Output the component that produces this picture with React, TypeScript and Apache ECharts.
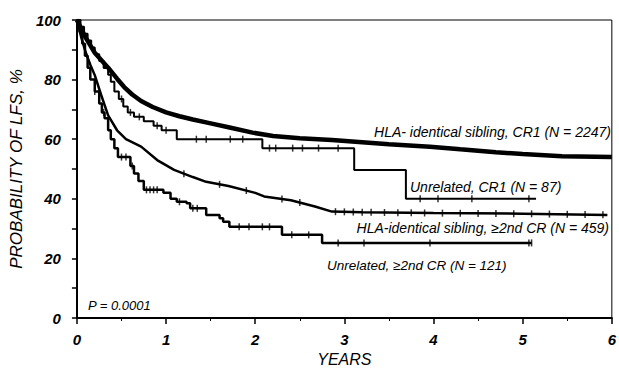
import React, { useEffect, useRef } from "react";
import * as echarts from "echarts";

// ---- Data (years, % leukemia-free survival) ----
const sibCR1: [number, number][] = [
  [0, 100], [0.05, 97], [0.1, 94], [0.15, 91.5], [0.2, 89], [0.25, 87.3], [0.35, 84],
  [0.45, 80.3], [0.53, 77.5], [0.62, 75], [0.72, 72.8], [0.85, 70.8], [1.0, 69],
  [1.15, 67.7], [1.3, 66.6], [1.5, 65.3], [1.7, 64], [1.97, 62.2], [2.2, 61.1], [2.5, 60.3],
  [2.86, 59.7], [3.2, 59], [3.5, 58.3], [3.96, 57.5], [4.3, 56.6], [4.7, 55.6],
  [5.0, 55], [5.44, 54.3], [6.0, 54],
];

const unrelCR1Steps: [number, number][] = [
  [0, 100], [0.04, 97.7], [0.08, 95.4], [0.12, 93.1], [0.16, 90.8], [0.2, 88.5],
  [0.25, 86.2], [0.3, 83.9], [0.35, 81.6], [0.38, 79.3], [0.42, 76], [0.47, 73.5],
  [0.52, 71], [0.57, 69], [0.64, 67.5], [0.75, 66], [0.86, 64.5], [0.95, 63],
  [1.12, 60], [2.08, 57], [3.11, 49.7], [3.69, 40], [5.15, 40],
];
const unrelCR1Censor = [0.5, 0.6, 0.7, 0.9, 1.0, 1.34, 1.45, 1.72, 1.86, 2.16, 2.23, 2.42, 2.53, 2.71, 2.93, 3.85, 4.05, 4.43, 5.07];

const sib2CR: [number, number][] = [
  [0, 100], [0.05, 94], [0.1, 89], [0.15, 85], [0.2, 81.5], [0.27, 75], [0.35, 68],
  [0.45, 63], [0.55, 60], [0.72, 57.5], [0.9, 53], [1.09, 49.7], [1.3, 47.3],
  [1.45, 45.7], [1.7, 44.3], [2.0, 42], [2.1, 40.8], [2.4, 39.5], [2.67, 37.4],
  [2.86, 35.7], [3.2, 35.5], [4.0, 35.2], [5.0, 35], [5.95, 34.6],
];
const sib2CRCensor = [1.2, 1.6, 1.9, 2.3, 2.5, 2.9, 3.0, 3.1, 3.2, 3.3, 3.45, 3.6, 3.75, 3.9, 4.1, 4.3, 4.5, 4.7, 4.9, 5.1, 5.3, 5.5, 5.7, 5.9];

const unrel2CRSteps: [number, number][] = [
  [0, 100], [0.03, 96], [0.06, 92], [0.09, 88], [0.12, 84], [0.15, 80], [0.2, 76],
  [0.25, 72], [0.28, 69], [0.31, 67], [0.35, 63], [0.38, 60], [0.42, 57], [0.46, 54],
  [0.6, 51], [0.64, 48.5], [0.69, 46], [0.75, 43], [0.97, 42], [1.05, 40], [1.12, 39],
  [1.23, 38.5], [1.27, 36.8], [1.45, 34.6], [1.6, 33.5], [1.64, 32.3], [1.71, 30.6],
  [2.3, 27.9], [2.75, 25.2], [5.1, 25.2],
];
const unrel2CRCensor = [0.2, 0.3, 0.5, 0.55, 0.62, 0.78, 0.82, 0.86, 0.9, 1.15, 1.3, 1.35, 1.82, 1.93, 2.08, 2.16, 2.41, 2.6, 2.93, 3.22, 3.96, 5.07, 5.1];

const xTicks = [0, 1, 2, 3, 4, 5, 6];

function stepAt(steps: [number, number][], t: number) {
  let v = steps[0][1];
  for (const [x, y] of steps) {
    if (x <= t) v = y;
    else break;
  }
  return v;
}
function linAt(pts: [number, number][], t: number) {
  for (let i = 1; i < pts.length; i++) {
    const [x0, y0] = pts[i - 1];
    const [x1, y1] = pts[i];
    if (t <= x1) return y0 + ((y1 - y0) * (t - x0)) / (x1 - x0);
  }
  return pts[pts.length - 1][1];
}

const FONT = "'Liberation Sans', Arial, sans-serif";

export default function App() {
  const ref = useRef<HTMLDivElement>(null);
  useEffect(() => {
    if (!ref.current) return;
    const chart = echarts.init(ref.current, undefined, { renderer: "svg" });
    const mkCensor = (pts: number[][]) => ({
      type: "scatter" as const,
      data: pts,
      symbol: "rect",
      symbolSize: [1.5, 7] as any,
      itemStyle: { color: "#000" },
      silent: true,
      z: 5,
    });
    chart.setOption({
      animation: false,
      backgroundColor: "#fff",
      grid: {
        left: 72, right: 5, top: 20, bottom: 58,
        show: true, borderColor: "#000", borderWidth: 1,
      },
      xAxis: {
        type: "value", min: 0, max: 6, interval: 1,
        name: "YEARS", nameLocation: "middle", nameGap: 32,
        nameTextStyle: { fontFamily: FONT, fontStyle: "italic", fontSize: 16, color: "#000" },
        axisLine: { show: true, lineStyle: { color: "#000", width: 2 } },
        axisTick: { show: true, length: 6, lineStyle: { color: "#000", width: 1.5 } },
        minorTick: { show: true, splitNumber: 2, length: 3, lineStyle: { color: "#000" } },
        splitLine: { show: false },
        axisLabel: {
          margin: 14, fontFamily: FONT, fontStyle: "italic", fontWeight: "bold",
          fontSize: 15, color: "#000",
          formatter: (v: number) => (xTicks.includes(v) ? String(v) : ""),
        },
      },
      yAxis: {
        type: "value", min: 0, max: 100, interval: 10,
        name: "PROBABILITY OF LFS, %", nameLocation: "middle", nameGap: 44, nameRotate: 90,
        nameTextStyle: { fontFamily: FONT, fontStyle: "italic", fontSize: 17, color: "#000" },
        axisLine: { show: true, lineStyle: { color: "#000", width: 2 } },
        axisTick: { show: true, length: 5, lineStyle: { color: "#000", width: 1.5 } },
        splitLine: { show: false },
        axisLabel: {
          margin: 16, fontFamily: FONT, fontStyle: "italic", fontWeight: "bold",
          fontSize: 15, color: "#000",
          formatter: (v: number) => (v % 20 === 0 ? String(v) : ""),
        },
      },
      series: [
        {
          type: "line", data: sibCR1, showSymbol: false, symbol: "none",
          lineStyle: { color: "#000", width: 4.5 }, z: 4,
        },
        {
          type: "line", data: unrelCR1Steps, step: "end", showSymbol: false, symbol: "none",
          lineStyle: { color: "#000", width: 2 },
        },
        mkCensor(unrelCR1Censor.map((t) => [t, stepAt(unrelCR1Steps, t)])),
        {
          type: "line", data: sib2CR, showSymbol: false, symbol: "none",
          lineStyle: { color: "#000", width: 2.5 },
        },
        mkCensor(sib2CRCensor.map((t) => [t, linAt(sib2CR, t)])),
        {
          type: "line", data: unrel2CRSteps, step: "end", showSymbol: false, symbol: "none",
          lineStyle: { color: "#000", width: 2.5 },
        },
        mkCensor(unrel2CRCensor.map((t) => [t, stepAt(unrel2CRSteps, t)])),
      ],
      graphic: [
        {
          type: "text", x: 611, y: 132,
          style: {
            text: "HLA- identical sibling, CR1 (N = 2247)", fill: "#000",
            font: `italic 14px ${FONT}`, textAlign: "right", textVerticalAlign: "middle",
          },
        },
        {
          type: "text", x: 410, y: 187,
          style: {
            text: "Unrelated, CR1 (N = 87)", fill: "#000",
            font: `italic 14px ${FONT}`, textAlign: "left", textVerticalAlign: "middle",
          },
        },
        {
          type: "text", x: 609, y: 228,
          style: {
            text: "HLA-identical sibling, ≥2nd CR (N = 459)", fill: "#000",
            font: `italic 14px ${FONT}`, textAlign: "right", textVerticalAlign: "middle",
          },
        },
        {
          type: "text", x: 327, y: 265,
          style: {
            text: "Unrelated, ≥2nd CR (N = 121)", fill: "#000",
            font: `italic 13.5px ${FONT}`, textAlign: "left", textVerticalAlign: "middle",
          },
        },
        {
          type: "text", x: 88, y: 305,
          style: {
            text: "P = 0.0001", fill: "#000",
            font: `italic 13px ${FONT}`, textAlign: "left", textVerticalAlign: "middle",
          },
        },
      ],
    });
    return () => chart.dispose();
  }, []);
  return (
    <div
      ref={ref}
      style={{ position: "fixed", left: 0, top: 0, width: 619, height: 376, background: "#fff" }}
    />
  );
}
